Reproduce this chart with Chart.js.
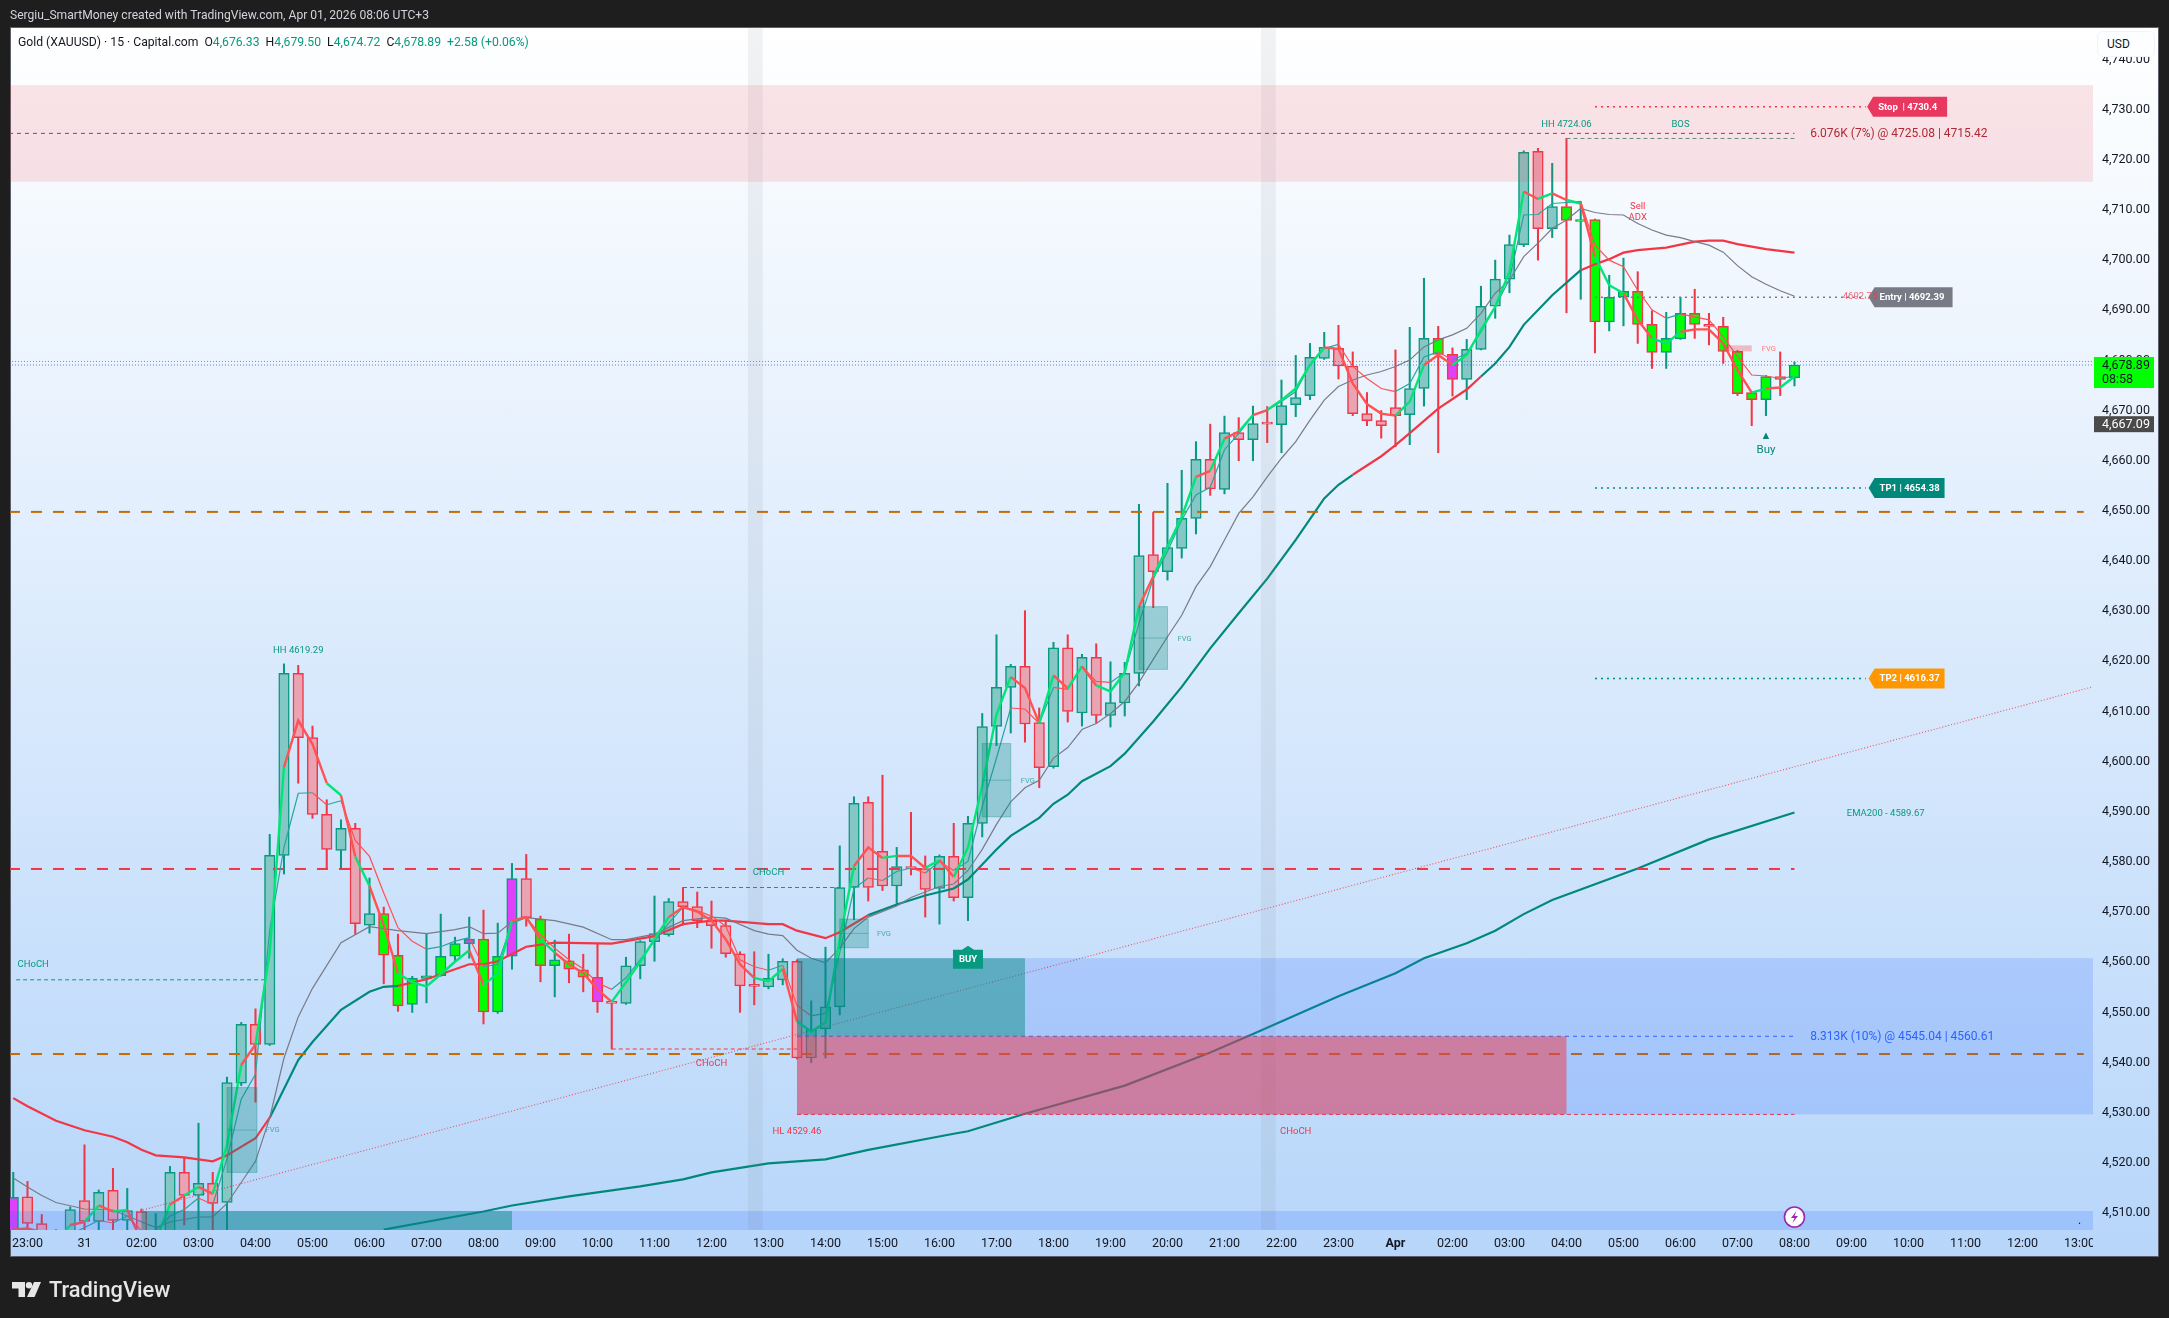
<!DOCTYPE html>
<html>
<head>
<meta charset="utf-8">
<title>Gold 15m</title>
<script src="https://cdn.jsdelivr.net/npm/chart.js@4/dist/chart.umd.min.js"></script>
<style>
  html, body { margin: 0; padding: 0; background: #1e1e1e; }
  body { width: 2169px; height: 1318px; position: relative; overflow: hidden; font-family: Roboto, sans-serif; }
  #panel { position: absolute; left: 10px; top: 27px; width: 2149px; height: 1230px; box-sizing: border-box;
    border: 1px solid #5d606b; background: linear-gradient(#ffffff, #b7d6fa); }
  #chart { position: absolute; left: 0; top: 0; }
  #credit { position: absolute; left: 10px; top: 8px; font-size: 12.1px; color: #d1d4dc; }
  #legend { position: absolute; left: 18px; top: 35px; font-size: 12.2px; color: #131722; white-space: pre; }
  #legend b { font-weight: 400; color: #089981; }
  #usd { position: absolute; left: 2097px; top: 31px; width: 58px; height: 26px; box-sizing: border-box; padding: 5px 0 0 9px;
    background: #fdfeff; border: 1px solid #f0f3fa; border-radius: 6px; font-size: 12px; color: #131722; }
  #logo { position: absolute; left: 12px; top: 1277px; color: #e6e6e6; font-size: 21.8px; font-weight: 500; display: flex; align-items: center; gap: 8px; }
</style>
</head>
<body>
<div id="panel"></div>
<canvas id="chart" width="2169" height="1318"></canvas>
<div id="credit">Sergiu_SmartMoney created with TradingView.com, Apr 01, 2026 08:06 UTC+3</div>
<div id="legend">Gold (XAUUSD) · 15 · Capital.com  O<b>4,676.33</b>  H<b>4,679.50</b>  L<b>4,674.72</b>  C<b>4,678.89</b>  <b>+2.58 (+0.06%)</b></div>
<div id="usd">USD</div>
<div id="logo">
  <svg width="29" height="15" viewBox="0 0 29 15"><path fill="#e6e6e6" d="M0 0h13v15H6.5V6.5H0z"/><path fill="#e6e6e6" d="M22 0h7l-6.5 15h-7.5z"/><circle fill="#e6e6e6" cx="17" cy="3.2" r="3.2"/></svg>
  <span>TradingView</span>
</div>
<script>
const firstBar = -1;
const timeLabels = ['23:00', '31', '02:00', '03:00', '04:00', '05:00', '06:00', '07:00', '08:00', '09:00', '10:00', '11:00', '12:00', '13:00', '14:00', '15:00', '16:00', '17:00', '18:00', '19:00', '20:00', '21:00', '22:00', '23:00', 'Apr', '02:00', '03:00', '04:00', '05:00', '06:00', '07:00', '08:00', '09:00', '10:00', '11:00', '12:00', '13:00'];

const opens = [4504.2, 4513, 4507.7, 4505.5, 4504, 4512.3, 4508.1, 4514.3, 4508.3, 4510.1, 4503, 4505, 4517.9, 4513.3, 4515.7, 4511.9, 4535.7, 4547.4, 4543.4, 4581.1, 4617.4, 4604.6, 4589.3, 4582.1, 4586.5, 4567.2, 4569.5, 4561.2, 4551.4, 4556.6, 4557.1, 4561, 4563.5, 4564.4, 4549.9, 4561, 4576.5, 4568.4, 4559.1, 4560.1, 4558.3, 4556.8, 4551.9, 4551.6, 4559.1, 4563.9, 4565.3, 4571.9, 4570.9, 4568.1, 4567.1, 4561.5, 4555.1, 4554.9, 4556.3, 4560, 4540.7, 4546.5, 4550.9, 4574.7, 4591.7, 4581.9, 4575, 4578.9, 4578.5, 4574.5, 4580.9, 4572.7, 4587.5, 4606.8, 4614.6, 4618.8, 4607.6, 4598.8, 4622.5, 4609.5, 4620.6, 4609, 4611.5, 4617.4, 4641.1, 4637.7, 4642.3, 4648.3, 4660.1, 4654.1, 4665.4, 4664, 4667.2, 4667, 4671, 4672.8, 4680.2, 4682.2, 4678.7, 4669.2, 4667.8, 4670.4, 4669, 4674.2, 4684.2, 4681, 4676, 4682, 4690.6, 4696, 4702.9, 4721.5, 4706.1, 4710.5, 4707.5, 4707.9, 4687.5, 4692.4, 4693.6, 4687, 4681.4, 4684.1, 4689.2, 4687, 4686.6, 4681.6, 4673.4, 4672, 4676.6, 4676.33];
const highs = [4517.9, 4516.1, 4509.5, 4506.5, 4511, 4523.4, 4514.4, 4518.7, 4514.7, 4510.6, 4509.7, 4519.1, 4520.8, 4527.7, 4517.9, 4536.9, 4547.8, 4550.5, 4585.3, 4619.3, 4619, 4606.9, 4592.2, 4588.2, 4587.5, 4576.6, 4570.8, 4565.4, 4557, 4565.5, 4569.4, 4564.8, 4568.8, 4570.2, 4567.6, 4579.5, 4581.3, 4569, 4564.2, 4565.4, 4561.4, 4563.5, 4552.1, 4560.8, 4564.1, 4573, 4572.5, 4574.7, 4573.8, 4572, 4568, 4561.9, 4561.9, 4561.4, 4560.5, 4560.3, 4552.1, 4562.8, 4583, 4592.8, 4592.8, 4597.1, 4582.7, 4589.7, 4581, 4581.2, 4587.5, 4588.9, 4609.4, 4625.1, 4619.2, 4629.9, 4610.5, 4623.6, 4625.1, 4621.2, 4623.3, 4619.7, 4619.6, 4651.1, 4649.5, 4655.3, 4657.9, 4663.6, 4667.1, 4668.7, 4668.4, 4670.7, 4670.6, 4675.9, 4680.8, 4683.2, 4685.4, 4686.8, 4681.5, 4673.4, 4669.8, 4681.9, 4686.4, 4696.2, 4686.6, 4682.3, 4684, 4694.6, 4699.8, 4704.8, 4721.6, 4722.1, 4719.1, 4724.1, 4711.5, 4708, 4696.8, 4700.2, 4697.5, 4689.7, 4689.4, 4692.4, 4694, 4689.2, 4688.4, 4681.8, 4673.5, 4676.8, 4681.5, 4679.5];
const lows = [4503, 4505, 4503, 4500, 4503, 4505, 4505, 4505, 4505, 4502, 4501, 4503, 4507.4, 4505, 4505, 4503, 4535.2, 4531.9, 4543.2, 4577.4, 4595.5, 4588.5, 4578.4, 4578.4, 4565.4, 4565.6, 4555.5, 4550, 4549.8, 4551.7, 4557, 4560, 4560.6, 4547.5, 4549.6, 4558.4, 4567, 4555.9, 4552.9, 4555.7, 4553.9, 4549.8, 4542.5, 4551.4, 4556.5, 4560, 4565, 4567.2, 4566.7, 4562.6, 4560.8, 4549.8, 4551.3, 4554.5, 4555.3, 4540.5, 4539.8, 4540.7, 4549.3, 4568.3, 4572, 4574.1, 4571.3, 4577.2, 4568.8, 4567.4, 4572, 4568.1, 4584.8, 4603, 4605.5, 4603.7, 4594.6, 4598.5, 4607.7, 4606.9, 4607.5, 4606.7, 4608.9, 4614.9, 4630.5, 4636, 4640.4, 4645.2, 4652.9, 4653.2, 4659.8, 4659.8, 4663.4, 4661.4, 4668.6, 4672, 4680, 4676.1, 4668.8, 4666.8, 4664.3, 4662.6, 4663, 4670.7, 4661.4, 4672.7, 4672, 4681.9, 4688.2, 4693.3, 4702.5, 4699.8, 4704.3, 4689.3, 4692, 4681.3, 4685.7, 4686.7, 4683.2, 4678.2, 4678.2, 4684, 4684.2, 4682.9, 4679.2, 4672.8, 4666.8, 4668.8, 4672.8, 4674.72];
const closes = [4512.9, 4507.7, 4505.5, 4503, 4510.5, 4508.1, 4513.9, 4508.3, 4510.3, 4504, 4505, 4517.9, 4513.3, 4515.7, 4511.7, 4535.8, 4547.4, 4543.4, 4581.1, 4617.4, 4604.6, 4589.3, 4582.3, 4586.5, 4567.5, 4569.5, 4561.2, 4551.1, 4556.6, 4557.1, 4561, 4563.5, 4564.4, 4549.9, 4561, 4576.5, 4568.7, 4559.1, 4560.3, 4558.4, 4556.8, 4551.9, 4551.6, 4559.1, 4563.9, 4565.5, 4571.9, 4570.9, 4568.1, 4567.1, 4561.5, 4555.1, 4555, 4556.6, 4560, 4540.7, 4546.4, 4550.9, 4574.7, 4591.5, 4574.7, 4575, 4578.9, 4578.5, 4574.3, 4580.9, 4572.7, 4587.5, 4606.8, 4614.6, 4618.8, 4607.3, 4598.6, 4622.5, 4609.8, 4620.6, 4609, 4611.6, 4617.4, 4640.9, 4637.7, 4642.5, 4648.3, 4660.1, 4654.2, 4665.4, 4664, 4667.2, 4667.1, 4670.8, 4672.4, 4680.4, 4682.4, 4678.7, 4669.2, 4667.8, 4666.8, 4668.8, 4674.2, 4684.2, 4681, 4676, 4682, 4690.6, 4696, 4702.9, 4721.3, 4706.1, 4710.5, 4707.7, 4707.9, 4687.5, 4692.4, 4693.6, 4687, 4681.4, 4684.2, 4689.2, 4687, 4686.6, 4681.6, 4673.2, 4672, 4676.6, 4676, 4678.89];
const limeBars = [25, 26, 27, 28, 29, 30, 32, 33, 36, 37, 38, 39, 99, 108, 109, 110, 111, 112, 113, 114, 115, 116, 117, 118, 119, 120, 121, 122, 123, 124];
const magentaBars = [-1, 31, 34, 40, 100];

// fast line, one value per bar from firstBar
const fastLine = [4506.5, 4506.7, 4506, 4504, 4507.4, 4508, 4511.3, 4510.1, 4510.4, 4504.2, 4504.2, 4511.5, 4513.3, 4515, 4513.6, 4523.4, 4539.3, 4543.4, 4561.7, 4598.7, 4608, 4603.3, 4595.5, 4593.1, 4580.9, 4575, 4567.2, 4557.6, 4555.8, 4555, 4557.4, 4559.9, 4562.2, 4555.3, 4557.6, 4568.1, 4568.8, 4564.4, 4561.7, 4559.4, 4557.6, 4554.4, 4551.9, 4555.8, 4559.9, 4564.4, 4568.8, 4570.8, 4569.9, 4568.1, 4564.4, 4559.4, 4556.7, 4556, 4558.5, 4548, 4546, 4547.8, 4564.4, 4579, 4582.7, 4580.6, 4581, 4581, 4578.6, 4580.2, 4576.8, 4582.7, 4595, 4609.2, 4616.7, 4614.5, 4607.4, 4617, 4614.4, 4618.8, 4615, 4613.8, 4617.6, 4630.7, 4636.7, 4642.7, 4648.6, 4656.6, 4657.8, 4664.2, 4665.6, 4668.9, 4669.9, 4671.9, 4674.2, 4678.9, 4682.4, 4682.1, 4675.2, 4671.1, 4669.2, 4668.8, 4671.6, 4678.9, 4680.9, 4678.9, 4680.9, 4685.9, 4690.5, 4697.5, 4713.5, 4712, 4713.1, 4711.8, 4711.1, 4700.5, 4694.8, 4693.2, 4687.9, 4684.2, 4683.2, 4685.5, 4686, 4686, 4683.2, 4677.9, 4673.4, 4674.2, 4674.4, 4676.6];
// thin line, one value per bar from bar 3
const midStart = 3;
const midLine = [4505.5, 4506.9, 4508.3, 4507.8, 4509.2, 4506.3, 4506.3, 4509.2, 4510.5, 4512.8, 4511.5, 4520.6, 4532.5, 4537.5, 4566.2, 4582.7, 4593.5, 4593.6, 4591.2, 4592, 4584.1, 4580.9, 4573.6, 4566.7, 4564, 4562.4, 4562.9, 4564, 4564.7, 4558.9, 4559.4, 4567.6, 4568.7, 4565.3, 4562.6, 4560.3, 4558.5, 4555.7, 4554.4, 4556.7, 4560.3, 4564, 4567.6, 4570.8, 4570.1, 4569, 4567, 4560.3, 4558.9, 4558.2, 4559.2, 4551.2, 4549.1, 4549.6, 4561.7, 4574.5, 4576.6, 4576.1, 4577.9, 4578.6, 4577.6, 4579.9, 4578.1, 4579.9, 4590.9, 4600.5, 4610.5, 4610.3, 4607.4, 4614.6, 4614.2, 4618.8, 4615.8, 4615.6, 4617.6, 4627.4, 4636.3, 4641.7, 4648, 4653, 4654.5, 4662, 4665.2, 4668.9, 4669.9, 4671.6, 4673.6, 4678.9, 4682.2, 4683, 4678.6, 4676.2, 4674.2, 4673.6, 4675.2, 4680.5, 4681.5, 4679.9, 4681.2, 4685.5, 4690.5, 4696, 4708.8, 4708.9, 4711.1, 4711.3, 4711.5, 4702.8, 4699.8, 4698.5, 4693.8, 4689.9, 4688.2, 4689.1, 4688.5, 4687.9, 4684.5, 4680.6, 4676.9, 4676.7, 4676.2, 4676.7];

const grayBars = [-1, 0, 1, 2, 4, 6, 7, 9, 10, 12, 13, 14, 16, 17, 18, 19, 20, 22, 24, 26, 28, 30, 31, 32, 33, 34, 35, 37, 39, 41, 42, 44, 46, 48, 49, 51, 52, 53, 54, 55, 56, 57, 58, 59, 61, 62, 64, 65, 66, 67, 68, 69, 70, 71, 72, 73, 74, 75, 76, 77, 78, 79, 80, 81, 82, 83, 84, 85, 86, 87, 88, 89, 90, 91, 92, 93, 94, 95, 96, 97, 98, 99, 100, 101, 102, 103, 104, 105, 106, 107, 108, 109, 110, 111, 112, 113, 114, 115, 116, 117, 118, 119, 120, 121, 122, 123, 124];
const grayLine = [4516.8, 4515, 4513.3, 4511.9, 4510.6, 4510.4, 4509.2, 4506.9, 4508, 4509, 4509, 4511.7, 4520.1, 4528.8, 4540.7, 4548.9, 4554.6, 4563.7, 4566.9, 4566.1, 4565.5, 4566.3, 4566.9, 4565.5, 4565.6, 4567.9, 4568.7, 4568.1, 4566.8, 4564.3, 4564.3, 4565.4, 4568.1, 4568.8, 4568.6, 4566.1, 4565.4, 4565.1, 4562.2, 4560.6, 4559.7, 4562.6, 4566.5, 4568.8, 4571, 4572.7, 4574.9, 4575.4, 4578.1, 4582.3, 4587.3, 4591.8, 4594.6, 4596.1, 4600.5, 4602.6, 4606.2, 4607.4, 4609.4, 4611.8, 4615.6, 4620.2, 4624.7, 4629, 4634.7, 4638.7, 4644, 4649.3, 4652.6, 4656.6, 4660.3, 4663.6, 4667.9, 4671.9, 4674.6, 4675.9, 4676.9, 4677.6, 4678.6, 4679.9, 4682.5, 4683.9, 4684.9, 4686.2, 4689.2, 4693.2, 4695.8, 4700.5, 4703.2, 4706.1, 4707.8, 4710.1, 4709.3, 4708.9, 4708.8, 4707.1, 4705.8, 4704.8, 4704.3, 4703.5, 4702.8, 4701.4, 4698.7, 4696.5, 4695, 4693.7, 4692.6];

const trendBars = [-1, 0, 2, 4, 6, 7, 8, 9, 11, 13, 14, 16, 17, 19, 20, 22, 24, 25, 26, 28, 31, 32, 33, 35, 37, 41, 44, 46, 48, 49, 52, 53, 54, 56, 57, 59, 61, 63, 65, 66, 68, 69, 71, 72, 73, 74, 76, 77, 79, 81, 83, 85, 87, 89, 91, 92, 93, 95, 96, 97, 99, 101, 102, 103, 104, 105, 107, 109, 110, 111, 112, 113, 115, 117, 118, 119, 120, 122, 124];
const trendLine = [4532.7, 4531.1, 4528.2, 4526.3, 4525, 4523.9, 4522.4, 4521.3, 4520.9, 4520.1, 4521.3, 4524.7, 4528.8, 4540.3, 4543.9, 4550.3, 4553.9, 4554.9, 4555.1, 4556.4, 4559.4, 4559.4, 4560, 4562.9, 4563.7, 4563.5, 4565, 4567.4, 4568.1, 4568.1, 4567.4, 4567.4, 4566.1, 4564.6, 4565.8, 4569.2, 4571.3, 4573.1, 4574.5, 4576.3, 4582.3, 4585, 4588.6, 4591.4, 4593.2, 4595.9, 4598.9, 4601.4, 4607.8, 4614.7, 4622.4, 4629.4, 4636.3, 4644, 4652.3, 4655, 4657, 4660.7, 4662.9, 4665.3, 4670.2, 4674, 4676.6, 4679.2, 4682.5, 4686.9, 4692.8, 4697.8, 4699, 4700, 4701.3, 4701.8, 4702.3, 4703.5, 4703.7, 4703.7, 4703, 4702, 4701.3];
// bars where the thick line is red, as from/to pairs
const trendRedSpans = [[-2, 17], [26, 60], [93, 102], [109, 125]];

const emaBars = [25, 32, 34, 38, 43, 46, 48, 52, 56, 59, 65, 66, 70, 77, 83, 86, 92, 96, 98, 101, 103, 105, 107, 113, 118, 124];
const emaLine = [4506.5, 4510.1, 4511.3, 4513.1, 4515.1, 4516.5, 4517.9, 4519.7, 4520.5, 4522.4, 4525.6, 4526.1, 4529.6, 4535.2, 4541.8, 4545.5, 4553, 4557.6, 4560.6, 4563.6, 4566.1, 4569.4, 4572.2, 4578.5, 4584.3, 4589.67];

const ascendBars = [7.7, 144.9];
const ascendPrices = [4510.1, 4614.7];

const redLevel = 4578.4;
const orangeLevels = [4541.5, 4649.6];
const stopPrice = 4730.4;
const entryPrice = 4692.39;
const tp1Price = 4654.38;
const tp2Price = 4616.37;
const lastPrice = 4678.89;
const askLine = 4679.6;
const shortEntry = 4725.08;
const longEntry = 4545.04;
const hlPrice = 4529.46;
const hhPrice = 4724.06;

const red = '#f23645';
const teal = '#089981';
const tealFill = '#85c7c4';
const redFill = '#e9a4b4';
const green = '#00e676';
const softRed = '#ff5252';
const orange = '#c96a00';

const barIdx = opens.map((v, n) => firstBar + n);
const isUp = (n) => closes[n] >= opens[n];

const bodyFill = (n) => {
  const bar = barIdx[n];
  if (limeBars.includes(bar)) return '#00ff00';
  if (magentaBars.includes(bar)) return '#e040fb';
  return isUp(n) ? tealFill : redFill;
};

const hline = (y, from, to, color, width, dash) => ({
  type: 'line',
  data: [{x: from, y: y}, {x: to, y: y}],
  borderColor: color,
  borderWidth: width,
  borderDash: dash,
  pointRadius: 0,
  order: 2
});

const pts = (xs, ys) => ys.map((y, n) => ({x: xs[n], y: y}));

const bodyData = barIdx.map((b, n) => ({x: b, y: [opens[n], closes[n]]}));
const upperWick = barIdx.map((b, n) => ({x: b, y: [Math.max(opens[n], closes[n]), highs[n]]}));
const lowerWick = barIdx.map((b, n) => ({x: b, y: [lows[n], Math.min(opens[n], closes[n])]}));

const wickSet = (rows) => ({
  type: 'bar',
  data: rows,
  grouped: false,
  barThickness: 1.4,
  backgroundColor: (c) => isUp(c.dataIndex) ? teal : red,
  order: 6
});

const inRedSpan = (bar) => trendRedSpans.some((s) => bar > s[0] && bar <= s[1]);

const datasets = [
  wickSet(upperWick),
  wickSet(lowerWick),
  {
    type: 'bar',
    data: bodyData,
    grouped: false,
    barThickness: 10.5,
    minBarLength: 2,
    backgroundColor: (c) => bodyFill(c.dataIndex),
    borderColor: (c) => isUp(c.dataIndex) ? teal : red,
    borderWidth: 1.5,
    borderSkipped: false,
    order: 5
  },
  {
    type: 'line',
    data: pts(emaBars, emaLine),
    borderColor: '#00897b',
    borderWidth: 2.2,
    pointRadius: 0,
    order: 3
  },
  {
    type: 'line',
    data: pts(ascendBars, ascendPrices),
    borderColor: 'rgba(242,54,69,0.85)',
    borderWidth: 1.1,
    borderDash: [1, 2],
    pointRadius: 0,
    order: 3
  },
  {
    type: 'line',
    data: pts(grayBars, grayLine),
    borderColor: '#787b86',
    borderWidth: 1.2,
    pointRadius: 0,
    order: 3
  },
  {
    type: 'line',
    data: pts(trendBars, trendLine),
    borderColor: '#00897b',
    borderWidth: 2.2,
    pointRadius: 0,
    segment: {borderColor: (c) => inRedSpan(c.p1.parsed.x) ? red : '#00897b'},
    order: 3
  },
  {
    type: 'line',
    data: midLine.map((y, n) => ({x: midStart + n, y: y})),
    borderColor: '#26a69a',
    borderWidth: 1.2,
    pointRadius: 0,
    segment: {borderColor: (c) => c.p1.parsed.y < c.p0.parsed.y ? softRed : '#26a69a'},
    order: 2
  },
  {
    type: 'line',
    data: pts(barIdx, fastLine),
    borderColor: green,
    borderWidth: 2.4,
    pointRadius: 0,
    segment: {borderColor: (c) => isUp(c.p1DataIndex) ? green : softRed},
    order: 1
  },
  hline(redLevel, -1.3, 124, red, 2, [11, 11]),
  hline(orangeLevels[0], -1.3, 144.3, orange, 2, [11, 11]),
  hline(orangeLevels[1], -1.3, 144.3, orange, 2, [11, 11]),
  hline(shortEntry, -1.3, 124, '#c2283a', 1, [4, 4]),
  hline(hhPrice, 108, 124, '#4e9a93', 1, [4, 3]),
  hline(stopPrice, 110, 129, red, 1.6, [2, 4]),
  hline(entryPrice, 110, 129, '#787b86', 1.6, [2, 4]),
  hline(tp1Price, 110, 129, '#00897b', 1.6, [2, 4]),
  hline(tp2Price, 110, 129, '#00897b', 1.6, [2, 4]),
  hline(askLine, -1.3, 145, 'rgba(242,54,69,0.8)', 1, [1, 2]),
  hline(lastPrice, -1.3, 145, '#2962ff', 0.8, [1, 2]),
  hline(4556.3, -0.8, 16.6, '#089981', 1, [4, 3]),
  hline(4574.7, 46, 57, '#089981', 1, [4, 3]),
  hline(4542.5, 41, 54, red, 1, [4, 3]),
  hline(longEntry, 54, 124, '#2962ff', 1, [4, 4]),
  hline(hlPrice, 54, 124, red, 1, [4, 3])
];

// zones sit over the candles: [barFrom, barTo, priceLow, priceHigh]
const blueZones = [[54, 145, 4529.46, 4560.61], [-1.3, 145, 4506.4, 4510.2]];
const redZones = [[-1.3, 145, 4715.42, 4734.7]];
const tealBoxes = [[54, 70, 4545.04, 4560.61], [8, 34, 4506.4, 4510.2]];
const pinkBoxes = [[54, 108, 4529.46, 4545.04]];
const fvgBoxes = [[14, 16.1, 4517.9, 4534.8], [57, 59, 4562.7, 4568.4], [67, 69, 4588.8, 4603.4], [78, 80, 4618.2, 4630.7]];
const fvgPink = [[119, 121, 4681.6, 4682.8]];
const sessionBands = [[50.56, 51.6], [86.56, 87.6]];

// small chart notes: text, bar, price
const tealNotes = [['HH 4619.29', 19, 4622.2], ['CHoCH', 0.4, 4559.5], ['CHoCH', 52, 4577.9], ['HH 4724.06', 108, 4727], ['BOS', 116, 4727], ['EMA200 - 4589.67', 130.4, 4589.6]];
const redNotes = [['CHoCH', 48, 4539.8], ['HL 4529.46', 54, 4526.3], ['CHoCH', 89, 4526.3], ['Sell', 113, 4710.7], ['ADX', 113, 4708.5]];
const fvgNotes = [['FVG', 17.2, 4526.5], ['FVG', 60.1, 4565.6], ['FVG', 70.2, 4596.2], ['FVG', 81.2, 4624.5]];

const overlays = {
  id: 'overlays',
  afterDatasetsDraw(chart) {
    const {ctx, chartArea: area, scales: {x, y}} = chart;
    ctx.save();
    ctx.beginPath();
    ctx.rect(area.left, area.top, area.right - area.left, area.bottom - area.top);
    ctx.clip();
    const box = (b, color) => {
      ctx.fillStyle = color;
      const l = x.getPixelForValue(b[0]), r = x.getPixelForValue(b[1]);
      const t = y.getPixelForValue(b[3]), h = y.getPixelForValue(b[2]) - t;
      ctx.fillRect(l, t, r - l, h);
    };
    sessionBands.forEach((s) => {
      ctx.fillStyle = 'rgba(120,123,134,0.1)';
      const l = x.getPixelForValue(s[0]);
      ctx.fillRect(l, area.top, x.getPixelForValue(s[1]) - l, area.bottom - area.top);
    });
    blueZones.forEach((b) => box(b, 'rgba(41,98,255,0.18)'));
    redZones.forEach((b) => box(b, 'rgba(242,54,69,0.13)'));
    tealBoxes.forEach((b) => box(b, 'rgba(0,137,123,0.45)'));
    pinkBoxes.forEach((b) => box(b, 'rgba(242,54,69,0.5)'));
    fvgPink.forEach((b) => box(b, 'rgba(242,54,69,0.3)'));
    fvgBoxes.forEach((b) => {
      box(b, 'rgba(0,137,123,0.3)');
      ctx.strokeStyle = 'rgba(0,137,123,0.35)';
      ctx.lineWidth = 1;
      const l = x.getPixelForValue(b[0]), r = x.getPixelForValue(b[1]);
      const t = y.getPixelForValue(b[3]), btm = y.getPixelForValue(b[2]);
      ctx.strokeRect(l, t, r - l, btm - t);
      ctx.beginPath();
      ctx.moveTo(l, (t + btm) / 2);
      ctx.lineTo(r, (t + btm) / 2);
      ctx.stroke();
    });

    const note = (text, bar, price, color, size, align) => {
      ctx.fillStyle = color;
      ctx.font = size + 'px Roboto';
      ctx.textAlign = align || 'center';
      ctx.textBaseline = 'middle';
      ctx.fillText(text, x.getPixelForValue(bar), y.getPixelForValue(price) + 1);
    };
    tealNotes.forEach((n) => note(n[0], n[1], n[2], '#089981', 9.5));
    redNotes.forEach((n) => note(n[0], n[1], n[2], red, 9.5));
    fvgNotes.forEach((n) => note(n[0], n[1], n[2], '#4aa9a1', 7.5));
    note('FVG', 122.2, 4682.2, '#f77c80', 7.5);
    note('6.076K (7%) @ 4725.08 | 4715.42', 125.1, 4725.2, '#b22833', 12, 'left');
    note('8.313K (10%) @ 4545.04 | 4560.61', 125.1, 4545, '#2962ff', 12, 'left');
    note('Buy', 122, 4662.1, '#00897b', 11.5);
    note('▲', 122, 4664.8, '#00897b', 11);
    note('.', 144, 4508.4, '#131722', 12);

    // right hand order tags
    const tag = (text, bar, price, color, width) => {
      const left = x.getPixelForValue(bar), mid = y.getPixelForValue(price);
      ctx.fillStyle = color;
      ctx.beginPath();
      ctx.moveTo(left, mid);
      ctx.lineTo(left + 6, mid - 10);
      ctx.lineTo(left + width, mid - 10);
      ctx.lineTo(left + width, mid + 10);
      ctx.lineTo(left + 6, mid + 10);
      ctx.closePath();
      ctx.fill();
      ctx.fillStyle = '#ffffff';
      ctx.font = 'bold 9.5px Roboto';
      ctx.textAlign = 'left';
      ctx.textBaseline = 'middle';
      ctx.fillText(text, left + 11, mid + 0.5);
    };
    tag('Stop  | 4730.4', 129.1, stopPrice, '#e8385f', 80);
    tag('Entry | 4692.39', 129.2, entryPrice, '#787b86', 84);
    tag('TP1 | 4654.38', 129.2, tp1Price, '#00897b', 76);
    tag('TP2 | 4616.37', 129.2, tp2Price, '#ff9800', 76);
    note('4692.75', 128.6, 4692.7, 'rgba(242,54,69,0.75)', 9.5);

    // BUY badge above the demand zone
    const bx = x.getPixelForValue(66), by = y.getPixelForValue(4560.5);
    ctx.fillStyle = '#089981';
    ctx.beginPath();
    ctx.moveTo(bx, by - 13);
    ctx.lineTo(bx + 6, by - 9);
    ctx.lineTo(bx + 15, by - 9);
    ctx.lineTo(bx + 15, by + 10);
    ctx.lineTo(bx - 15, by + 10);
    ctx.lineTo(bx - 15, by - 9);
    ctx.lineTo(bx - 6, by - 9);
    ctx.closePath();
    ctx.fill();
    ctx.fillStyle = '#ffffff';
    ctx.font = 'bold 9.5px Roboto';
    ctx.textAlign = 'center';
    ctx.fillText('BUY', bx, by + 1);

    // earnings style marker on the last bar
    const mx = x.getPixelForValue(124), my = y.getPixelForValue(4509);
    ctx.fillStyle = '#ffffff';
    ctx.strokeStyle = '#9c27b0';
    ctx.lineWidth = 1.6;
    ctx.beginPath();
    ctx.ellipse(mx, my, 10, 10, 0, 0, Math.PI * 2);
    ctx.fill();
    ctx.stroke();
    ctx.fillStyle = '#9c27b0';
    ctx.beginPath();
    ctx.moveTo(mx + 2, my - 6);
    ctx.lineTo(mx - 3.5, my + 1);
    ctx.lineTo(mx, my + 1);
    ctx.lineTo(mx - 2, my + 6);
    ctx.lineTo(mx + 3.5, my - 1);
    ctx.lineTo(mx, my - 1);
    ctx.closePath();
    ctx.fill();
    ctx.restore();
  },
  afterDraw(chart) {
    const {ctx, chartArea: area, scales: {y}} = chart;
    // last time label is cut by the price scale
    ctx.clearRect(area.right, area.bottom + 1, 60, 26);
    const priceBox = (top, h, color) => {
      ctx.fillStyle = color;
      ctx.fillRect(area.right + 1, top, 60, h);
    };
    const py = y.getPixelForValue(lastPrice);
    priceBox(py - 8, 31, '#00ff00');
    ctx.fillStyle = '#131722';
    ctx.font = '12.5px Roboto';
    ctx.textAlign = 'left';
    ctx.textBaseline = 'middle';
    ctx.fillText('4,678.89', area.right + 9, py + 1);
    ctx.fillText('08:58', area.right + 9, py + 15);
    const gy = y.getPixelForValue(4667.09);
    priceBox(gy - 8, 16, '#4a4a4a');
    ctx.fillStyle = '#ffffff';
    ctx.fillText('4,667.09', area.right + 9, gy + 1);
  }
};

new Chart(document.getElementById('chart'), {
  type: 'bar',
  data: {datasets: datasets},
  plugins: [overlays],
  options: {
    responsive: false,
    animation: false,
    devicePixelRatio: 1,
    layout: {padding: {left: 10, top: 27, right: 0, bottom: 0}},
    plugins: {legend: {display: false}, tooltip: {enabled: false}},
    scales: {
      x: {
        type: 'linear',
        offset: false,
        min: -1.228,
        max: 144.95,
        afterFit: (s) => { s.height = 88; },
        grid: {display: false, drawTicks: false, offset: false},
        border: {display: false},
        ticks: {
          stepSize: 4,
          includeBounds: false,
          autoSkip: false,
          maxRotation: 0,
          padding: 6,
          color: '#131722',
          font: (c) => ({family: 'Roboto', size: 12.5, weight: timeLabels[c.tick && c.tick.value / 4] === 'Apr' ? 'bold' : 'normal'}),
          callback: (v) => timeLabels[v / 4]
        }
      },
      y: {
        position: 'right',
        min: 4506.41,
        max: 4746.29,
        afterFit: (s) => { s.width = 76; },
        grid: {display: false, drawTicks: false},
        border: {display: false},
        ticks: {
          stepSize: 10,
          includeBounds: false,
          padding: 9,
          labelOffset: 1,
          color: '#131722',
          font: {family: 'Roboto', size: 12.5},
          callback: (v) => v.toLocaleString('en-US', {minimumFractionDigits: 2, maximumFractionDigits: 2})
        }
      }
    }
  }
});
</script>
</body>
</html>
